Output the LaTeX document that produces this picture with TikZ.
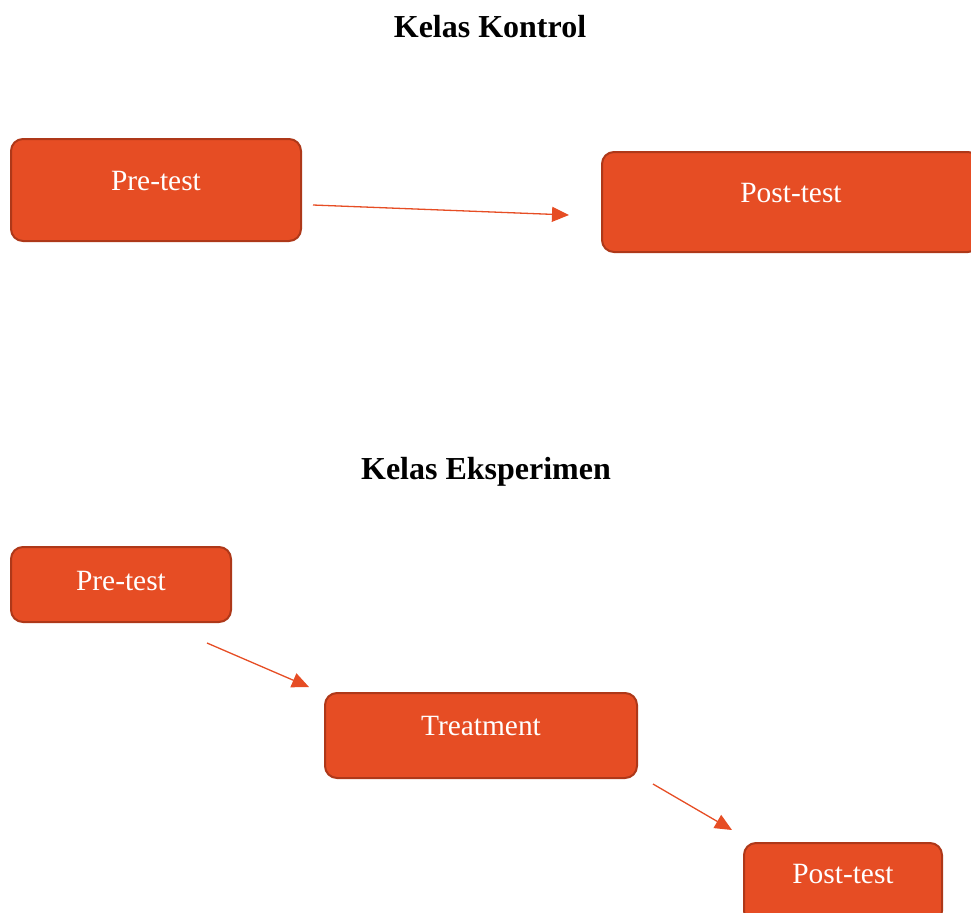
\documentclass[tikz,border=0pt]{standalone}
\usepackage{fontspec}
\setmainfont{Liberation Serif}
\usepackage{tikz}
\usetikzlibrary{positioning,arrows.meta}
\definecolor{boxfill}{HTML}{E64D24}
\definecolor{boxline}{HTML}{AE3819}

\begin{document}
\begin{tikzpicture}[x=0.5pt,y=-0.5pt,
  stage/.style={draw=boxline,line width=1pt,fill=boxfill,rounded corners=6pt,inner sep=0pt,
    text=white,font=\fontsize{14.7}{17}\selectfont,text height=10pt,text depth=10pt},
  heading/.style={anchor=base,font=\bfseries\fontsize{16}{19}\selectfont},
  flow/.style={draw=boxfill,line width=0.65pt,-{Triangle[length=8.5pt,width=7.5pt]}}]
\useasboundingbox (0,0) rectangle (971,912);
% kelas kontrol
\node[heading] (ktitle) at (490,37) {Kelas Kontrol};
\node[stage,minimum width=145pt,minimum height=51pt] (kpre) at (156,190) {Pre-test};
\node[stage,minimum width=189pt,minimum height=50pt] (kpost) at (791,202) {Post-test};
\coordinate (ka) at (313,205);
\coordinate (kb) at (569,215);
\draw[flow] (ka) -- (kb);
% kelas eksperimen
\node[heading] (etitle) at (486,479) {Kelas Eksperimen};
\node[stage,minimum width=110pt,minimum height=37.5pt,text depth=4.5pt] (epre) at (121,584.5) {Pre-test};
\node[stage,minimum width=156pt,minimum height=42.5pt] (etreat) at (481,735.5) {Treatment};
\node[stage,minimum width=99pt,minimum height=40pt] (epost) at (843,883) {Post-test};
\coordinate (ea) at (207,643);
\coordinate (eb) at (309,687);
\coordinate (ec) at (653,784);
\coordinate (ed) at (732,830);
\draw[flow] (ea) -- (eb);
\draw[flow] (ec) -- (ed);
\end{tikzpicture}
\end{document}
